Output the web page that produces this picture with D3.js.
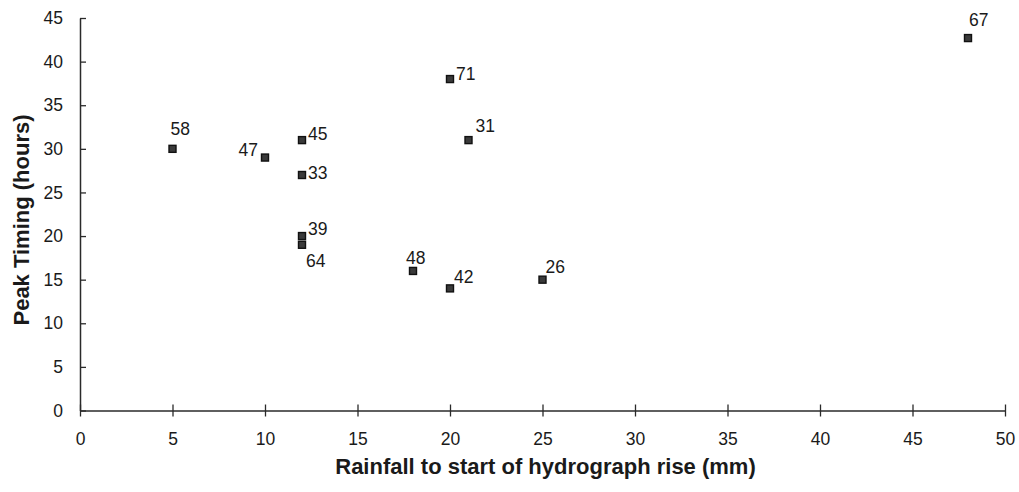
<!DOCTYPE html>
<html>
<head>
<meta charset="utf-8">
<script src="https://cdn.jsdelivr.net/npm/d3@7"></script>
<style>
  html, body { margin: 0; padding: 0; background: #fff; }
  svg { display: block; }
  text { font-family: "Liberation Sans", Arial, Helvetica, sans-serif; fill: #1a1a1a; }
</style>
</head>
<body>
<svg id="chart" width="1019" height="492"></svg>
<script>
// Event numbers with rainfall before hydrograph rise (mm) and peak timing (hours)
const eventIds   = ["58", "47", "45", "33", "39", "64", "48", "42", "71", "31", "26", "67"];
const rainfallMm = [5, 10, 12, 12, 12, 12, 18, 20, 20, 21, 25, 48];
const peakHours  = [30, 29, 31, 27, 20, 19, 16, 14, 38, 31, 15, 42.7];
const xTicks = [0, 5, 10, 15, 20, 25, 30, 35, 40, 45, 50];
const yTicks = [0, 5, 10, 15, 20, 25, 30, 35, 40, 45];

// Where each event's number sits relative to its marker (dx, dy, anchor)
const labelPlacement = {
  "58": [-2, -14, "start"],
  "47": [-7, -2, "end"],
  "45": [6, 0, "start"],
  "33": [6, 4, "start"],
  "39": [6, -1, "start"],
  "64": [4, 22, "start"],
  "48": [-7, -7, "start"],
  "42": [4, -5, "start"],
  "71": [6, 1, "start"],
  "31": [7, -8, "start"],
  "26": [3, -7, "start"],
  "67": [1, -12, "start"]
};

const svg = d3.select("#chart");
const plotLeft = 80, plotRight = 1005, plotTop = 18, plotBottom = 410.5;
const labelSize = 17.5;

const x = d3.scaleLinear().domain([0, 50]).range([plotLeft, plotRight]);
const y = d3.scaleLinear().domain([0, 45]).range([plotBottom, plotTop]);

// Axes with ticks crossing the axis line
const axisColor = "#2a2a2a";
const xAxis = svg.append("g").attr("transform", `translate(0,${plotBottom})`)
  .call(d3.axisBottom(x).tickValues(xTicks).tickSize(6).tickPadding(16).tickSizeOuter(0));
xAxis.selectAll(".tick line").attr("y1", -6);
const yAxis = svg.append("g").attr("transform", `translate(${plotLeft},0)`)
  .call(d3.axisLeft(y).tickValues(yTicks).tickSize(5).tickPadding(12).tickSizeOuter(0));
yAxis.selectAll(".tick line").attr("x2", 6);

[xAxis, yAxis].forEach(g => {
  g.select(".domain").attr("stroke", axisColor).attr("stroke-width", 1.5);
  g.selectAll(".tick line").attr("stroke", axisColor).attr("stroke-width", 1.3);
  g.selectAll(".tick text").attr("font-size", labelSize).style("font-family", "'Liberation Sans', Arial, sans-serif").attr("fill", "#1a1a1a");
});

// Axis titles
svg.append("text")
  .attr("x", (plotLeft + plotRight) / 2 + 3).attr("y", 474)
  .attr("text-anchor", "middle")
  .attr("font-size", 22).attr("font-weight", "bold")
  .text("Rainfall to start of hydrograph rise (mm)");
svg.append("text")
  .attr("transform", `translate(29,220) rotate(-90)`)
  .attr("text-anchor", "middle")
  .attr("font-size", 22).attr("font-weight", "bold")
  .text("Peak Timing (hours)");

// Markers
const pts = eventIds.map((id, i) => ({ id, xv: rainfallMm[i], yv: peakHours[i] }));
const ms = 7;
svg.append("g").selectAll("rect").data(pts).join("rect")
  .attr("x", d => x(d.xv) - ms / 2)
  .attr("y", d => y(d.yv) - ms / 2)
  .attr("width", ms).attr("height", ms)
  .attr("fill", "#3a3a3a").attr("stroke", "#111").attr("stroke-width", 1.4);

// Event number labels
svg.append("g").selectAll("text").data(pts).join("text")
  .attr("x", d => x(d.xv) + labelPlacement[d.id][0])
  .attr("y", d => y(d.yv) + labelPlacement[d.id][1])
  .attr("text-anchor", d => labelPlacement[d.id][2])
  .attr("font-size", labelSize)
  .text(d => d.id);
</script>
</body>
</html>
